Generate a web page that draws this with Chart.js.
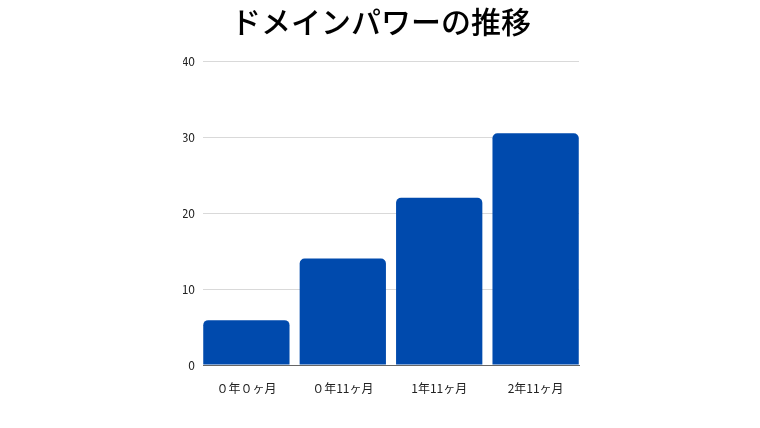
<!DOCTYPE html>
<html>
<head>
<meta charset="utf-8">
<script src="https://cdn.jsdelivr.net/npm/chart.js@4/dist/chart.umd.min.js"></script>
<style>
  html, body { margin: 0; padding: 0; background: #fff; }
  #wrap { width: 760px; height: 428px; }
</style>
</head>
<body>
<div id="wrap"><canvas id="domainChart"></canvas></div>
<script>
var chartTitle = 'ドメインパワーの推移';
var periods = ['０年０ヶ月', '０年11ヶ月', '1年11ヶ月', '2年11ヶ月'];
var domainPower = [5.9, 14, 22, 30.5];
var yTicks = [0, 10, 20, 30, 40];

var jpFont = "'Noto Sans CJK JP', 'Noto Sans', sans-serif";

// bars sit on a numeric x scale so they run flush to the plot edges
var points = periods.map(function (p, i) {
  return { x: i, y: domainPower[i] };
});

var ctx = document.getElementById('domainChart');
var chart = new Chart(ctx, {
  type: 'bar',
  data: {
    datasets: [{
      label: chartTitle,
      data: points,
      backgroundColor: '#004aad',
      borderWidth: 0,
      borderRadius: 5,
      borderSkipped: 'start',
      categoryPercentage: 1,
      barPercentage: 0.895
    }]
  },
  options: {
    responsive: true,
    maintainAspectRatio: false,
    animation: false,
    layout: {
      padding: { left: 183, right: 181, top: 0, bottom: 0 }
    },
    plugins: {
      legend: { display: false },
      tooltip: { enabled: false },
      title: {
        display: true,
        text: chartTitle,
        color: '#000',
        font: { family: jpFont, size: 30, weight: '500' },
        padding: { top: 4, bottom: 21 }
      }
    },
    scales: {
      x: {
        type: 'linear',
        min: -0.45,
        max: periods.length - 0.55,
        offset: false,
        grid: { display: false },
        border: { display: true, color: '#666', width: 1 },
        afterBuildTicks: function (s) {
          s.ticks = periods.map(function (p, i) { return { value: i }; });
        },
        ticks: {
          color: '#222',
          padding: 8,
          font: { family: jpFont, size: 12 },
          callback: function (v) { return periods[v]; }
        },
        afterFit: function (s) { s.height = 63; }
      },
      y: {
        min: yTicks[0],
        max: yTicks[yTicks.length - 1],
        grid: { color: '#d9d9d9', drawTicks: false },
        border: { display: false },
        afterBuildTicks: function (s) {
          s.ticks = yTicks.map(function (v) { return { value: v }; });
        },
        ticks: {
          color: '#222',
          padding: 8,
          font: { family: jpFont, size: 12 }
        },
        afterFit: function (s) { s.width = 20; }
      }
    }
  }
});
</script>
</body>
</html>
